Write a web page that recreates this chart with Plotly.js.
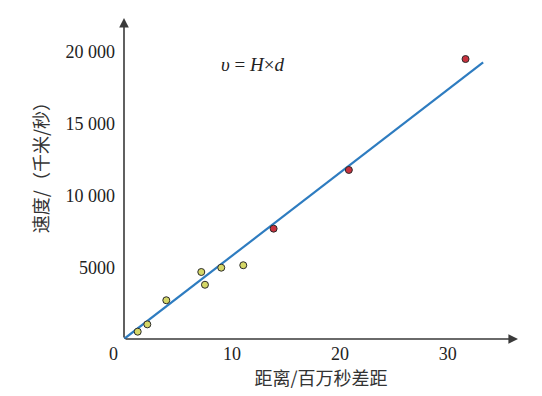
<!DOCTYPE html>
<html>
<head>
<meta charset="utf-8">
<script src="https://cdn.plot.ly/plotly-3.0.1.min.js"></script>
<style>html,body{margin:0;padding:0;background:#fff;}#chart{width:542px;height:396px;}</style>
</head>
<body>
<div id="chart"></div>
<script>
// Nearby galaxies (yellow)
const nearDist = [1.27, 2.16, 3.92, 7.16, 7.5, 9.01, 11.05];
const nearVel  = [510, 1020, 2700, 4670, 3780, 4970, 5140];
// Distant galaxies (red)
const farDist = [13.86, 20.83, 31.64];
const farVel  = [7690, 11780, 19510];
// Fitted line v = H x d
const fitDist = [0, 33.27];
const fitVel  = [0, 19280];
// Axis ticks
const xTickVals = [10, 20, 30];
const xTickText = ['10', '20', '30'];
const yTickVals = [5000, 10000, 15000, 20000];
const yTickText = ['5000', '10 000', '15 000', '20 000'];
const xMax = 36.5, yMax = 22370;

const serif = 'Liberation Serif, Times New Roman, serif';
const cjk = 'Noto Sans CJK SC, sans-serif';
const axisColor = '#3a3a3a';

const traces = [
  {x: fitDist, y: fitVel, mode: 'lines', line: {color: '#2e7cc0', width: 2.2}, hoverinfo: 'skip', showlegend: false},
  {x: nearDist, y: nearVel, mode: 'markers', marker: {size: 7, color: '#d5d767', line: {color: '#2b2b2b', width: 1}}, showlegend: false},
  {x: farDist, y: farVel, mode: 'markers', marker: {size: 7, color: '#c8323e', line: {color: '#2b2b2b', width: 1}}, showlegend: false}
];

const layout = {
  width: 542, height: 396,
  margin: {l: 124, r: 24, t: 18, b: 57},
  paper_bgcolor: '#fff', plot_bgcolor: '#fff',
  xaxis: {
    range: [0, xMax], showgrid: false, zeroline: false, showline: false,
    tickvals: xTickVals, ticktext: xTickText, ticks: '',
    ticklabelstandoff: 2,
    tickfont: {family: serif, size: 18, color: '#222'},
    title: {text: '距离/百万秒差距', font: {family: cjk, size: 18, color: '#333'}, standoff: 6}
  },
  yaxis: {
    range: [0, yMax], showgrid: false, zeroline: false, showline: false,
    tickvals: yTickVals, ticktext: yTickText, ticks: '',
    ticklabelstandoff: 8,
    tickfont: {family: serif, size: 18, color: '#222'},
    title: {text: ''}
  },
  annotations: [
    {x: xMax, y: 0, ax: 0, ay: 0, xref: 'x', yref: 'y', axref: 'x', ayref: 'y', text: '', showarrow: true, arrowhead: 2, arrowsize: 1.2, arrowwidth: 1.6, arrowcolor: axisColor},
    {x: 0, y: yMax, ax: 0, ay: 0, xref: 'x', yref: 'y', axref: 'x', ayref: 'y', text: '', showarrow: true, arrowhead: 2, arrowsize: 1.2, arrowwidth: 1.6, arrowcolor: axisColor},
    {x: 0, y: 0, xref: 'x', yref: 'y', text: '0', showarrow: false, xanchor: 'right', yanchor: 'top', xshift: -4, yshift: -3, font: {family: serif, size: 18, color: '#222'}},
    {x: 11.9, y: 19100, xref: 'x', yref: 'y', text: '<i>υ</i> = <i>H</i>×<i>d</i>', showarrow: false, font: {family: serif, size: 19, color: '#222'}},
    {x: -0.213, y: 0.548, xref: 'paper', yref: 'paper', text: '速度/（千米/秒）', textangle: -90, showarrow: false, xanchor: 'center', yanchor: 'middle', font: {family: cjk, size: 18, color: '#333'}}
  ]
};

Plotly.newPlot('chart', traces, layout, {staticPlot: true, displayModeBar: false});
</script>
</body>
</html>
